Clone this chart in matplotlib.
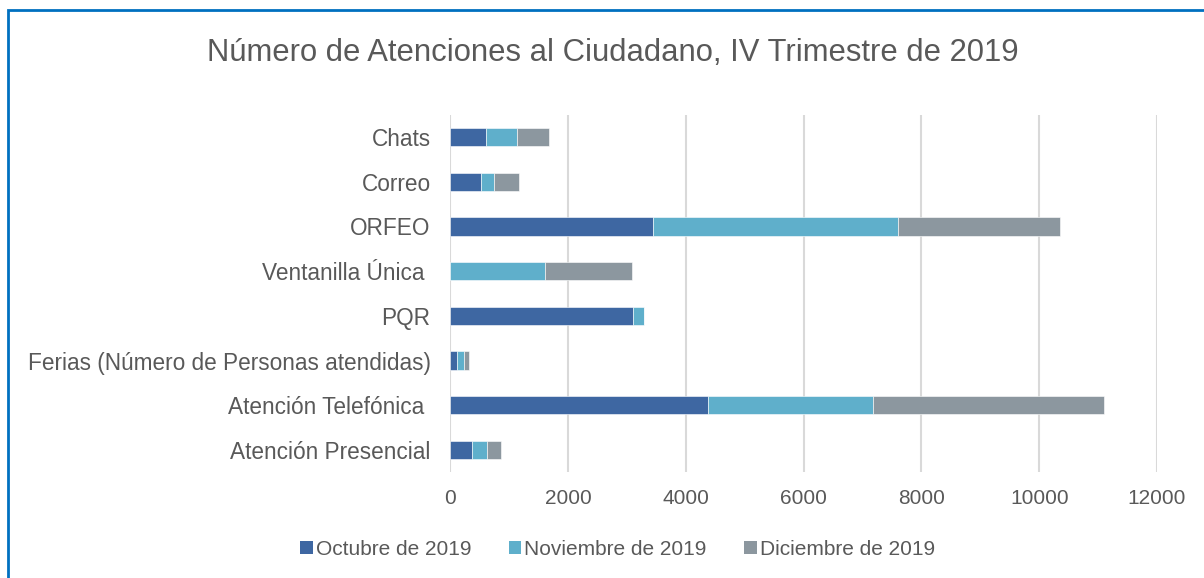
import numpy as np
import matplotlib
matplotlib.use("Agg")
import matplotlib.pyplot as plt
from matplotlib.lines import Line2D
from matplotlib.patches import Patch

categorias = ["Atención Presencial", "Atención Telefónica ",
              "Ferias (Número de Personas atendidas)", "PQR",
              "Ventanilla Única ", "ORFEO", "Correo", "Chats"]

octubre = [378, 4372, 121, 3101, 0, 3442, 530, 613]
noviembre = [257, 2814, 113, 189, 1611, 4160, 211, 529]
diciembre = [235, 3911, 91, 0, 1475, 2746, 424, 537]

series = ["Octubre de 2019", "Noviembre de 2019", "Diciembre de 2019"]
colores = ["#3E67A2", "#5FAFCB", "#8C979F"]

texto = "#595959"
plt.rcParams["font.family"] = ["Liberation Sans", "DejaVu Sans"]

fig = plt.figure(figsize=(12.04, 5.78), dpi=100)
ax = fig.add_axes([0.3738, 0.1827, 0.5872, 0.619])

y = np.arange(len(categorias))
izq = np.zeros(len(categorias))
for vals, nombre, c in zip([octubre, noviembre, diciembre], series, colores):
    vals = np.array(vals, dtype=float)
    ax.barh(y, vals, left=izq, height=0.41, color=c, label=nombre,
            edgecolor="white", linewidth=0.4, zorder=3)
    izq += vals

ax.set_xlim(0, 12000)
ax.set_ylim(-0.5, len(categorias) - 0.5)
ax.set_xticks(np.arange(0, 12001, 2000))
ax.set_yticks(y)
ax.set_yticklabels(categorias)
ax.tick_params(axis="both", length=0, colors=texto)
ax.tick_params(axis="x", pad=12, labelsize=15)
ax.tick_params(axis="y", pad=14, labelsize=16.3)
ax.grid(axis="x", color="#D9D9D9", linewidth=1.5, zorder=0)
for s in ax.spines.values():
    s.set_visible(False)

fig.text(0.509, 0.908, "Número de Atenciones al Ciudadano, IV Trimestre de 2019",
         ha="center", va="center", fontsize=22.3, color=texto)

handles = [Patch(facecolor=c, edgecolor="none") for c in colores]
fig.legend(handles, series, loc="center", bbox_to_anchor=(0.513, 0.05),
           ncol=3, frameon=False, fontsize=15, labelcolor=texto,
           handlelength=0.6, handleheight=0.6, handletextpad=0.15,
           columnspacing=1.8)

# marco azul del documento
W, H = 1204, 578
xs = [7.5 / W, 7.5 / W, 1.0]
ys = [0.0, 1 - 10 / H, 1 - 10 / H]
fig.add_artist(Line2D(xs, ys, transform=fig.transFigure, color="#0070C0",
                      linewidth=2, solid_joinstyle="miter"))

fig.savefig("out.png", dpi=100)
